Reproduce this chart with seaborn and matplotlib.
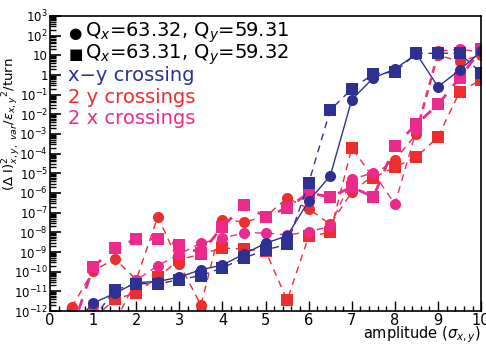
import numpy as np
import pandas as pd
import matplotlib
matplotlib.use("Agg")
import matplotlib.pyplot as plt
import matplotlib.ticker as mticker
import seaborn as sns

# amplitude in sigma
amp = [0.5, 1.0, 1.5, 2.0, 2.5, 3.0, 3.5, 4.0, 4.5, 5.0,
       5.5, 6.0, 6.5, 7.0, 7.5, 8.0, 8.5, 9.0, 9.5, 10.0]

# log10 of diffusion rate
xy_circ = [-12.8, -11.6, -11.1, -10.55, -10.5, -10.27, -9.9, -9.66, -9.1, -8.55,
           -8.18, -6.4, -5.13, -1.25, -0.15, 0.3, 1.07, -0.6, 0.25, 1.2]
xy_sq = [-13.0, -12.4, -10.93, -10.6, -10.62, -10.4, -10.2, -9.8, -9.3, -8.9,
         -8.6, -5.49, -1.78, -0.71, 0.05, 0.15, 1.1, 1.1, 1.1, 0.1]
y2_circ = [-11.8, -9.96, -9.35, -10.4, -7.2, -9.6, -11.7, -7.37, -7.47, -7.2,
           -6.25, -6.8, -7.6, -5.95, -5.1, -4.3, -3.0, 1.0, 0.7, 1.0]
y2_sq = [-12.9, -12.4, -11.4, -11.08, -10.27, -9.4, -9.1, -8.8, -8.85, -8.95,
         -11.45, -8.2, -8.0, -3.7, -5.23, -4.68, -4.17, -3.15, -0.86, -0.25]
x2_circ = [-13.0, -11.75, -12.6, -10.42, -9.7, -9.1, -8.55, -8.29, -8.03, -8.03,
           -8.13, -7.98, -7.68, -5.29, -4.98, -6.56, -2.8, 1.22, 1.3, 1.17]
x2_sq = [-13.0, -9.76, -8.8, -8.34, -8.34, -8.64, -9.05, -7.72, -6.6, -7.2,
         -6.76, -6.0, -6.2, -5.7, -6.2, -3.6, -2.5, -1.5, -0.15, 1.3]

blue = "#2e3192"
red = "#ee2d2d"
magenta = "#ec2a8c"

series = [
    # (values, colour, marker, linestyle, linewidth)
    (y2_sq, red, "s", (0, (5, 4)), 1.0),
    (y2_circ, red, "o", (0, (5, 4)), 1.0),
    (x2_circ, magenta, "o", (0, (5, 4)), 1.0),
    (x2_sq, magenta, "s", (0, (4, 4)), 2.0),
    (xy_sq, blue, "s", (0, (5, 4)), 1.0),
    (xy_circ, blue, "o", "-", 1.0),
]

plt.rcParams["font.family"] = ["DejaVu Sans"]
plt.rcParams["mathtext.fontset"] = "dejavusans"

fig = plt.figure(figsize=(4.86, 3.46), dpi=100)
ax = fig.add_axes([0.103, 0.101, 0.887, 0.853])

for vals, col, mk, ls, lw in series:
    df = pd.DataFrame({"amp": amp, "rate": 10.0 ** np.array(vals)})
    sns.lineplot(data=df, x="amp", y="rate", ax=ax, color=col, marker=mk,
                 markersize=8, markeredgewidth=0, linestyle=ls, linewidth=lw)

ax.set_yscale("log")
ax.set_xlim(0, 10)
ax.set_ylim(1e-12, 1e3)
ax.set_xlabel("")
ax.set_ylabel("")

# y ticks ROOT style
yt = [10.0 ** k for k in range(-12, 4)]
ylab = []
for k in range(-12, 4):
    if k == 0:
        ylab.append("1")
    elif k == 1:
        ylab.append("10")
    else:
        ylab.append("$10^{%d}$" % k)
ax.set_yticks(yt)
ax.set_yticklabels(ylab)
ax.yaxis.set_minor_locator(mticker.LogLocator(base=10, subs=np.arange(2, 10), numticks=100))
ax.yaxis.set_minor_formatter(mticker.NullFormatter())

ax.set_xticks(range(0, 11))
ax.xaxis.set_minor_locator(mticker.MultipleLocator(0.2))

ax.tick_params(axis="both", which="both", direction="in", top=False, right=False)
ax.tick_params(axis="y", which="major", length=8, width=1.2, pad=1.5, labelsize=8.5)
ax.tick_params(axis="y", which="minor", length=4, width=1.0)
ax.tick_params(axis="x", which="major", length=7, width=1.0, pad=1.5, labelsize=10.5)
ax.tick_params(axis="x", which="minor", length=3.5, width=1.0)
for sp in ax.spines.values():
    sp.set_linewidth(1.2)
    sp.set_color("black")

# legend block
lx = 0.042
tx = 0.081
fs = 14
ax.text(lx, 0.942, "\u25cf", transform=ax.transAxes, fontsize=11, va="center")
ax.text(tx, 0.942, "Q$_x$=63.32, Q$_y$=59.31", transform=ax.transAxes,
        fontsize=fs, va="center")
ax.text(lx, 0.868, "\u25a0", transform=ax.transAxes, fontsize=11, va="center")
ax.text(tx, 0.868, "Q$_x$=63.31, Q$_y$=59.32", transform=ax.transAxes,
        fontsize=fs, va="center")
ax.text(lx, 0.797, "x\u2212y crossing", transform=ax.transAxes,
        fontsize=fs, va="center", color=blue)
ax.text(lx, 0.722, "2 y crossings", transform=ax.transAxes,
        fontsize=fs, va="center", color=red)
ax.text(lx, 0.651, "2 x crossings", transform=ax.transAxes,
        fontsize=fs, va="center", color=magenta)

fig.text(0.023, 0.64,
         r"$(\Delta\ \mathrm{I})^{2}_{x,y,\ var}/\varepsilon_{x,y}{}^{2}$/turn",
         rotation=90, ha="center", va="center", fontsize=9.5)
fig.text(0.99, 1 - 338 / 346, r"amplitude ($\sigma_{x,y}$)", ha="right",
         va="baseline", fontsize=10.5)

fig.savefig("out.png", dpi=100)
